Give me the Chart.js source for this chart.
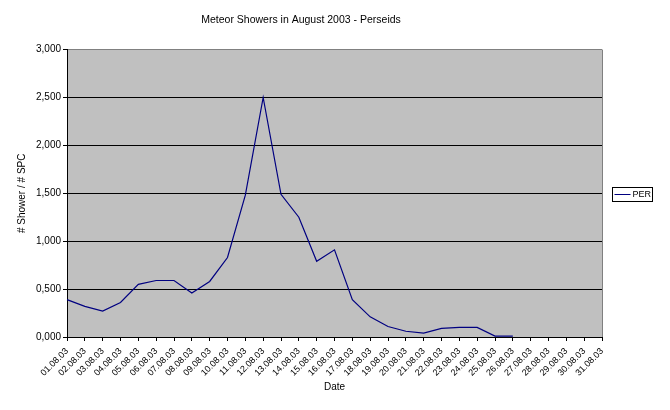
<!DOCTYPE html>
<html>
<head>
<meta charset="utf-8">
<script src="https://cdn.jsdelivr.net/npm/chart.js@4/dist/chart.umd.min.js"></script>
<style>
  html, body { margin: 0; padding: 0; background: #ffffff; }
  #chart { display: block; }
</style>
</head>
<body>
<canvas id="chart" width="670" height="410"></canvas>
<script>
// Data
const dates = [
    '01.08.03', '02.08.03', '03.08.03', '04.08.03', '05.08.03', '06.08.03', '07.08.03', '08.08.03',
    '09.08.03', '10.08.03', '11.08.03', '12.08.03', '13.08.03', '14.08.03', '15.08.03', '16.08.03',
    '17.08.03', '18.08.03', '19.08.03', '20.08.03', '21.08.03', '22.08.03', '23.08.03', '24.08.03',
    '25.08.03', '26.08.03', '27.08.03', '28.08.03', '29.08.03', '30.08.03', '31.08.03'
];
const perValues = [
    0.39, 0.32, 0.27, 0.36, 0.55, 0.59, 0.59, 0.46,
    0.58, 0.83, 1.48, 2.50, 1.49, 1.25, 0.79, 0.91,
    0.39, 0.21, 0.11, 0.06, 0.04, 0.09, 0.10, 0.10,
    0.01, 0.01, null, null, null, null, null
];
const yTicks = [0, 0.5, 1, 1.5, 2, 2.5, 3];

const FONT = '"Liberation Sans", Arial, sans-serif';

// gray plot area + gray right border, like the old Excel charts
const plotBackground = {
    id: 'plotBackground',
    beforeDraw(chart) {
        const { ctx, chartArea: a } = chart;
        ctx.save();
        ctx.fillStyle = '#c0c0c0';
        ctx.fillRect(a.left, a.top, a.right - a.left, a.bottom - a.top);
        ctx.restore();
    },
    beforeDatasetsDraw(chart) {
        const { ctx, chartArea: a } = chart;
        ctx.save();
        ctx.strokeStyle = '#808080';
        ctx.lineWidth = 1;
        ctx.beginPath();
        ctx.moveTo(Math.round(a.right) + 0.5, a.top);
        ctx.lineTo(Math.round(a.right) + 0.5, a.bottom);
        ctx.stroke();
        ctx.restore();
    }
};

// boxed legend to the right of the plot
const boxLegend = {
    id: 'boxLegend',
    afterDraw(chart) {
        const { ctx, chartArea: a } = chart;
        const ds = chart.data.datasets[0];
        const x = Math.round(a.right) + 10.5;
        const y = Math.round((a.top + a.bottom) / 2) - 5.5;
        ctx.save();
        ctx.strokeStyle = '#000';
        ctx.lineWidth = 1;
        ctx.strokeRect(x, y, 40, 14);
        ctx.strokeStyle = ds.borderColor;
        ctx.beginPath();
        ctx.moveTo(x + 2, y + 7);
        ctx.lineTo(x + 18, y + 7);
        ctx.stroke();
        ctx.fillStyle = '#000';
        ctx.font = '9px ' + FONT;
        ctx.textBaseline = 'middle';
        ctx.fillText(ds.label, x + 20, y + 7.5);
        ctx.restore();
    }
};

const ctx = document.getElementById('chart').getContext('2d');
new Chart(ctx, {
    type: 'line',
    data: {
        labels: dates,
        datasets: [{
            label: 'PER',
            data: perValues,
            borderColor: '#000080',
            borderWidth: 1.2,
            pointRadius: 0,
            tension: 0,
            fill: false,
            spanGaps: false
        }]
    },
    options: {
        responsive: false,
        animation: false,
        layout: { padding: { left: 0, right: 68, top: 0, bottom: 0 } },
        plugins: {
            legend: { display: false },
            tooltip: { enabled: false },
            title: {
                display: true,
                text: 'Meteor Showers in August 2003 - Perseids',
                color: '#000',
                font: { family: FONT, size: 10.5, weight: 'normal' },
                padding: { top: 14, bottom: 23 }
            }
        },
        scales: {
            x: {
                type: 'category',
                offset: false,
                grid: { drawOnChartArea: false, drawTicks: true, tickLength: 4, tickColor: '#000', offset: false },
                border: { display: true, color: '#000', width: 1 },
                ticks: {
                    autoSkip: false, maxRotation: 45, minRotation: 45, padding: 5,
                    color: '#000', font: { family: FONT, size: 9 }
                },
                title: {
                    display: true, text: 'Date', color: '#000',
                    font: { family: FONT, size: 10 },
                    padding: { top: 0, bottom: 17 }
                },
                afterFit(scale) { scale.height = 73; }
            },
            y: {
                min: 0,
                max: 3,
                afterBuildTicks(scale) { scale.ticks = yTicks.map(v => ({ value: v })); },
                grid: {
                    color: c => (c.tick && c.tick.value === 3 ? '#808080' : '#000'),
                    tickColor: '#000',
                    tickLength: 4,
                    lineWidth: 1
                },
                border: { display: true, color: '#000', width: 1 },
                ticks: {
                    padding: 2,
                    color: '#000',
                    font: { family: FONT, size: 10 },
                    callback: v => Number(v).toFixed(3).replace('.', ',')
                },
                title: {
                    display: true, text: '# Shower / # SPC', color: '#000',
                    font: { family: FONT, size: 10 },
                    padding: { top: 16, bottom: 0 }
                },
                afterFit(scale) { scale.width = 67; }
            }
        }
    },
    plugins: [plotBackground, boxLegend]
});
</script>
</body>
</html>
